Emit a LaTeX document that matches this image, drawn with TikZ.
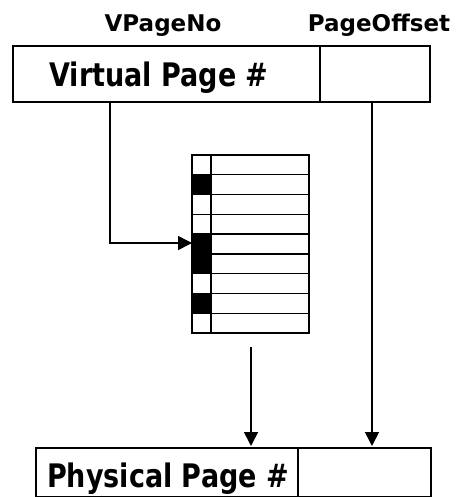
\documentclass[tikz,border=0pt]{standalone}
\usepackage{fontspec}
\setmainfont{DejaVu Sans}
\usetikzlibrary{arrows.meta}
\begin{document}
\begin{tikzpicture}[x=1pt,y=-1pt,
  box/.style={draw,line width=2pt,inner sep=0pt},
  lbl/.style={font=\bfseries\fontsize{23}{26}\selectfont,anchor=base,inner sep=0pt},
  big/.style={font=\bfseries\fontsize{27}{30}\selectfont,anchor=base,inner sep=0pt},
  conn/.style={line width=1.6pt,-{Triangle[length=14pt,width=14pt]}},
  cell/.style={draw,line width=1.4pt}]
\useasboundingbox (0,0) rectangle (460,497);
% top register
\node[box,minimum width=307pt,minimum height=56pt,anchor=north west] (vpn) at (12,45) {};
\node[box,minimum width=110pt,minimum height=56pt,anchor=north west] (off) at (319,45) {};
\node[big] (vtxt) at (159,87) {\scalebox{1}[1.2]{Virtual Page \#}};
\node[lbl] (l1) at (163,32) {VPageNo};
\node[lbl] (l2) at (379,32) {PageOffset};
% page table
\node[inner sep=0pt,minimum width=117pt,minimum height=178pt,anchor=north west] (pt) at (192,155) {};
\foreach \i in {1,...,9} {
  \pgfmathsetmacro{\ya}{155+(\i-1)*19.78}
  \pgfmathsetmacro{\yb}{155+\i*19.78}
  \draw[cell] (192,\ya) rectangle (211,\yb);
  \draw[cell] (211,\ya) rectangle (309,\yb);
}
\foreach \i in {2,5,6,8} {
  \pgfmathsetmacro{\ya}{155+(\i-1)*19.78}
  \pgfmathsetmacro{\yb}{155+\i*19.78}
  \fill (192,\ya) rectangle (211,\yb);
}
\draw[line width=1.6pt] (192,155) rectangle (309,333);
% bottom register
\node[box,minimum width=262pt,minimum height=49pt,anchor=north west] (ppn) at (35,447) {};
\node[box,minimum width=133pt,minimum height=49pt,anchor=north west] (poff) at (297,447) {};
\node[big] (ptxt) at (168,487) {\scalebox{1}[1.2]{Physical Page \#}};
% connectors
\coordinate (bend) at (110,243);
\coordinate (ptin) at (192,243);
\coordinate (s1) at (110,101);
\draw[conn] (s1) -- (bend) -- (ptin);
\coordinate (t1) at (251,347);
\coordinate (t2) at (251,446);
\draw[conn] (t1) -- (t2);
\coordinate (r1) at (372,101);
\coordinate (r2) at (372,446);
\draw[conn] (r1) -- (r2);
\end{tikzpicture}
\end{document}
